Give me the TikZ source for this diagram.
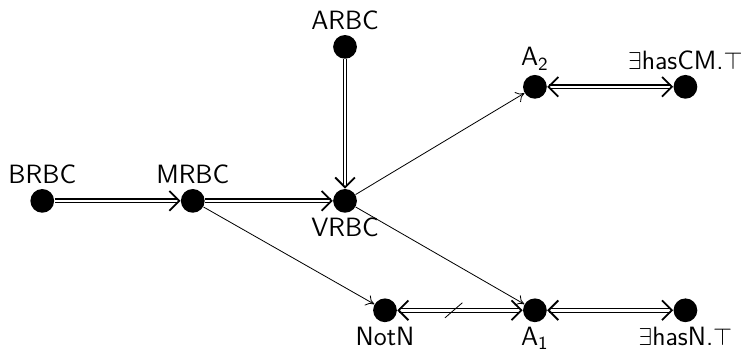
\documentclass[tikz,border=0pt]{standalone}
\usepackage{amsmath, amssymb}
\usetikzlibrary{arrows.meta,positioning,calc}

\begin{document}
\begin{tikzpicture}[
			font=\sffamily\fontsize{13}{15}\selectfont,
			every node/.style={circle,fill,minimum size=4.1mm,inner sep=0pt},
			iso/.style={{Straight Barb[length=1.7mm,width=3.4mm,line width=0.9pt]}-{Straight Barb[length=1.7mm,width=3.4mm,line width=0.9pt]},double,double distance=1.2pt,semithick},
			imp/.style={-{Straight Barb[length=1.7mm,width=3.4mm,line width=0.9pt]},double,double distance=1.2pt,semithick},
			sub/.style={-{To[length=1.4mm,width=2mm]},thin},
			every label/.style={inner sep=2pt,fill=none,rectangle,minimum size=0pt}
		]
		\useasboundingbox (0,0) rectangle (12.80,6.22);

		\node (brbc) at (0.73,2.75) [label=above:BRBC] {};
		\node (mrbc) at (3.33,2.75) [label=above:MRBC] {};
		\node (vrbc) at (5.96,2.75) [label=below:VRBC] {};
		\node (arbc) at (5.96,5.41) [label=above:ARBC] {};
		\node (a2) at (9.24,4.72) [label=above:A\textsubscript{2}] {};
		\node (hcm) at (11.84,4.72) [label=above:$\exists$hasCM.$\top$] {};
		\node (notn) at (6.65,0.86) [label=below:NotN] {};
		\node (a1) at (9.24,0.86) [label=below:A\textsubscript{1}] {};
		\node (hn) at (11.84,0.86) [label=below:$\exists$hasN.$\top$] {};

		\draw[imp] (brbc) -- (mrbc);
		\draw[imp] (mrbc) -- (vrbc);
		\draw[imp] (arbc) -- (vrbc);
		\draw[sub] (vrbc) -- (a2);
		\draw[sub] (vrbc) -- (a1);
		\draw[sub] (mrbc) -- (notn);
		\draw[iso] (a2) -- (hcm);
		\draw[iso] (a1) -- (hn);
		\draw[iso] (notn) -- coordinate[pos=.45] (x) (a1);
		\draw[thin] ($(x)+(-0.15,-0.13)$) -- ($(x)+(0.15,0.13)$);

	\end{tikzpicture}
\end{document}
